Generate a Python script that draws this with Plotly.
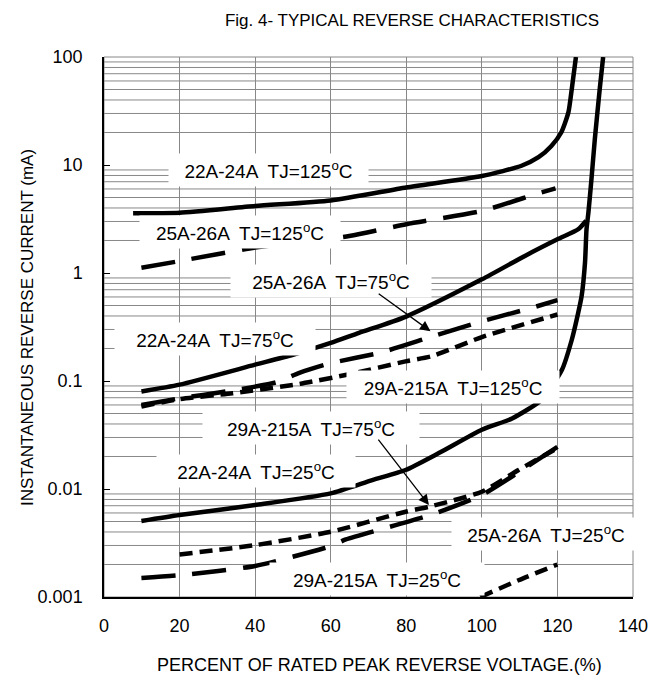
import plotly.graph_objects as go

# ---------------- data (percent of rated PRV, current in mA) ----------------
x_22_125 = [7.7, 20, 40, 60, 80, 100, 110.5, 115, 118.4, 121, 122.9, 123.8, 124.9]
y_22_125 = [3.57, 3.62, 4.18, 4.7, 6.2, 7.9, 9.84, 11.8, 15, 20, 30.7, 50.7, 100]

x_25_125 = [9.9, 20, 40, 64.9, 80, 100, 115, 119.5]
y_25_125 = [1.12, 1.29, 1.72, 2.2, 2.83, 3.76, 5.48, 6.07]

x_22_75 = [9.9, 20, 40, 50, 60, 67.5, 79.8, 100, 111.4, 120, 125.5, 127.6]
y_22_75 = [0.080, 0.0925, 0.1416, 0.175, 0.225, 0.279, 0.393, 0.873, 1.44, 2.05, 2.54, 3.05]

x_25_75 = [9.9, 20, 32.3, 45.5, 51.7, 59.6, 73.6, 86.4, 100, 113.2, 120]
y_25_75 = [0.060, 0.069, 0.080, 0.097, 0.119, 0.145, 0.185, 0.255, 0.357, 0.476, 0.561]

x_29_125 = [9.9, 20, 34, 51.7, 65.7, 79.8, 86.8, 100, 120]
y_29_125 = [0.058, 0.068, 0.077, 0.094, 0.117, 0.152, 0.17, 0.255, 0.413]

x_22_25 = [9.9, 20, 40, 60, 71, 79.8, 88.6, 100, 108, 115.8, 121.2, 123.8, 125.5,
           126.4, 127.3, 127.7, 128.2, 129, 129.9, 131.2, 132.1]
y_22_25 = [0.00505, 0.00574, 0.0071, 0.0091, 0.0121, 0.015, 0.0215, 0.0354, 0.045,
           0.067, 0.127, 0.241, 0.428, 0.61, 1.25, 2.54, 3.63, 7.36, 17.4, 50.7, 100]

x_29_75 = [20, 40, 60, 79.8, 86, 100, 109.7, 120]
y_29_75 = [0.00248, 0.00302, 0.00402, 0.00616, 0.00685, 0.00944, 0.015, 0.0239]

x_25_25 = [9.9, 20, 40, 60, 64, 86.4, 100, 110, 120]
y_25_25 = [0.0015, 0.00159, 0.00194, 0.00296, 0.00341, 0.00574, 0.0088, 0.0145, 0.0245]

x_29_25 = [99.6, 109.7, 120]
y_29_25 = [0.001, 0.00143, 0.002]

x_ticks = [0, 20, 40, 60, 80, 100, 120, 140]
y_ticks = [0.001, 0.01, 0.1, 1, 10, 100]
y_ticktext = ["0.001", "0.01", "0.1", "1", "10", "100"]
decades = [0.001, 0.01, 0.1, 1, 10]
minor_mult = [2, 3, 4, 5, 6, 7, 8, 9]

FONT = "Liberation Sans, Arial, sans-serif"
GRID = "#888888"
LONG = "34px,17px"
SHORT = "13px,7px"
W, H = 652, 670

fig = go.Figure()

# minor horizontal grid lines (2..9 in every decade)
gx, gy = [], []
for d in decades:
    for m in minor_mult:
        v = m * d
        gx += [0, 140, None]
        gy += [v, v, None]
fig.add_trace(go.Scatter(x=gx, y=gy, mode="lines", line=dict(color=GRID, width=1),
                         hoverinfo="skip", showlegend=False))

def curve(x, y, dash):
    fig.add_trace(go.Scatter(x=x, y=y, mode="lines",
                             line=dict(color="black", width=4.5, dash=dash,
                                       shape="spline", smoothing=0.6),
                             hoverinfo="skip", showlegend=False))

curve(x_22_125, y_22_125, "solid")
curve(x_25_125, y_25_125, LONG)
curve(x_22_75, y_22_75, "solid")
curve(x_25_75, y_25_75, LONG)
curve(x_29_125, y_29_125, SHORT)
curve(x_22_25, y_22_25, "solid")
curve(x_29_75, y_29_75, SHORT)
curve(x_25_25, y_25_25, LONG)
curve(x_29_25, y_29_25, SHORT)

# curve labels: (text, x, log10 y, box width)
labels = [
    ("22A-24A  TJ=125<sup>o</sup>C", 43.6, 0.957, 199),
    ("25A-26A  TJ=125<sup>o</sup>C", 35.9, 0.377, 200),
    ("25A-26A  TJ=75<sup>o</sup>C", 60.1, -0.078, 200),
    ("22A-24A  TJ=75<sup>o</sup>C", 29.3, -0.607, 200),
    ("29A-215A  TJ=125<sup>o</sup>C", 92.3, -1.053, 212),
    ("29A-215A  TJ=75<sup>o</sup>C", 54.7, -1.434, 216),
    ("22A-24A  TJ=25<sup>o</sup>C", 40.1, -1.833, 198),
    ("25A-26A  TJ=25<sup>o</sup>C", 117.1, -2.418, 188),
    ("29A-215A  TJ=25<sup>o</sup>C", 72.2, -2.836, 214),
]
annotations = []
for t, x, ly, w in labels:
    annotations.append(dict(text=t, x=x, y=ly, xref="x", yref="y", showarrow=False,
                            xanchor="center", yanchor="middle",
                            bgcolor="white", width=w, height=32, borderpad=0,
                            font=dict(family=FONT, size=19, color="black")))

# arrows
for (hx, hy, tx, ty) in [(86.4, -0.539, 72.3, -0.183), (86.0, -2.149, 72.3, -1.529)]:
    annotations.append(dict(text="", x=hx, y=hy, ax=tx, ay=ty, xref="x", yref="y",
                            axref="x", ayref="y", showarrow=True, arrowhead=2,
                            arrowsize=1.6, arrowwidth=1.3, arrowcolor="black"))

# axis titles
annotations.append(dict(text="PERCENT OF RATED PEAK REVERSE VOLTAGE.(%)", xref="paper",
                        yref="paper", x=0.52, y=-0.126, xanchor="center", yanchor="middle",
                        showarrow=False, font=dict(family=FONT, size=18, color="black")))
annotations.append(dict(text="INSTANTANEOUS REVERSE CURRENT (mA)", xref="paper",
                        yref="paper", x=-0.1456, y=0.5, xanchor="center", yanchor="middle",
                        textangle=-90, showarrow=False,
                        font=dict(family=FONT, size=17, color="black")))

fig.update_layout(
    width=W, height=H,
    margin=dict(l=96, r=25, t=49, b=81),
    paper_bgcolor="white", plot_bgcolor="white",
    font=dict(family=FONT, size=18, color="black"),
    title=dict(text="Fig. 4- TYPICAL REVERSE CHARACTERISTICS", x=404 / W, xanchor="center",
               y=1 - 12 / H, yanchor="middle", yref="container",
               font=dict(family=FONT, size=17, color="black")),
    annotations=annotations,
    shapes=[dict(type="rect", xref="paper", yref="paper", x0=0, x1=1, y0=0, y1=1,
                 line=dict(color=GRID, width=1), layer="below")],
    showlegend=False,
)
fig.update_xaxes(range=[0, 140], tickvals=x_ticks, showgrid=True, gridcolor=GRID,
                 gridwidth=1, zeroline=False, showline=True, linecolor="black",
                 linewidth=1.5, ticks="", ticklabelstandoff=12,
                 tickfont=dict(family=FONT, size=18))
fig.update_yaxes(type="log", range=[-3, 2], tickvals=y_ticks, ticktext=y_ticktext,
                 showgrid=False, zeroline=False, showline=True, linecolor="black",
                 linewidth=1.5, ticks="inside", ticklen=6, tickcolor="black",
                 ticklabelstandoff=16, tickfont=dict(family=FONT, size=18))

fig.write_html("out.html")
